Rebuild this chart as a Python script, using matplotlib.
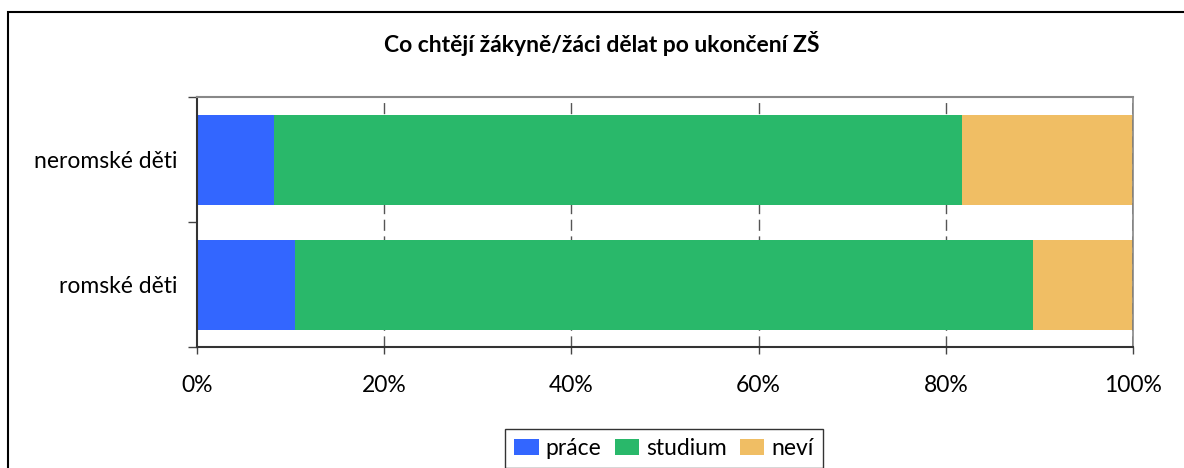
import matplotlib
matplotlib.use("Agg")
import matplotlib.pyplot as plt
from matplotlib.patches import Rectangle
import numpy as np

categories = ["neromské děti", "romské děti"]
series_names = ["práce", "studium", "neví"]
prace = [8.2, 10.5]
studium = [73.5, 78.8]
nevi = [18.3, 10.7]
colors = ["#3366FF", "#29B86A", "#F0BE64"]
xticks = [0, 20, 40, 60, 80, 100]
xtick_labels = ["0%", "20%", "40%", "60%", "80%", "100%"]
title = "Co chtějí žákyně/žáci dělat po ukončení ZŠ"

plt.rcParams["font.family"] = ["Lato", "DejaVu Sans"]

W, H = 1184, 468
fig = plt.figure(figsize=(W / 100, H / 100), dpi=100)
ax = fig.add_axes([197 / W, 1 - 347 / H, (1133 - 197) / W, 250 / H])

y = np.arange(len(categories))
left = np.zeros(len(categories))
for name, vals, c in zip(series_names, [prace, studium, nevi], colors):
    ax.barh(y, vals, left=left, height=0.72, color=c, label=name, zorder=3)
    left = left + np.array(vals)

ax.set_xlim(0, 100)
ax.set_ylim(1.5, -0.5)
ax.set_xticks(xticks)
ax.set_xticklabels(xtick_labels, fontsize=16.5)
ax.set_yticks([-0.5, 0.5, 1.5])
ax.set_yticklabels([])
ax.set_yticks(y, minor=True)
ax.set_yticklabels(categories, minor=True, fontsize=16.5)
ax.tick_params(axis="y", which="major", direction="out", length=6.5, width=1, color="#444444")
ax.tick_params(axis="y", which="minor", length=0, pad=14)
ax.tick_params(axis="x", direction="out", length=5, width=1, color="#444444", pad=15)

for x in xticks[1:]:
    ax.axvline(x, color="#555555", lw=1, ls=(0, (8, 4)), zorder=2)

ax.spines["left"].set_color("#333333")
ax.spines["left"].set_linewidth(1.5)
ax.spines["bottom"].set_color("#333333")
ax.spines["bottom"].set_linewidth(1.5)
ax.spines["top"].set_color("#888888")
ax.spines["top"].set_linewidth(1.5)
ax.spines["right"].set_color("#888888")
ax.spines["right"].set_linewidth(1.2)
for s in ax.spines.values():
    s.set_zorder(5)
ax.axvline(100, color="#444444", lw=1, ls=(0, (8, 4)), zorder=6)

fig.text(602 / W, 1 - 44 / H, title, ha="center", va="center", fontsize=16.5, fontweight="bold")

leg = fig.legend(loc="upper center", bbox_to_anchor=(664 / W, 1 - 429 / H), ncol=3,
                 fontsize=16.5, frameon=True, fancybox=False, edgecolor="black",
                 handlelength=1.05, handleheight=0.7, handletextpad=0.3, columnspacing=0.6,
                 borderpad=0.4, borderaxespad=0)
leg.get_frame().set_linewidth(1.0)

fig.patches.append(Rectangle((8 / W, -0.2), 1.2, 1.2 - 12 / H, transform=fig.transFigure,
                             fill=False, edgecolor="black", lw=1.5, figure=fig))

fig.savefig("out.png", dpi=100)
